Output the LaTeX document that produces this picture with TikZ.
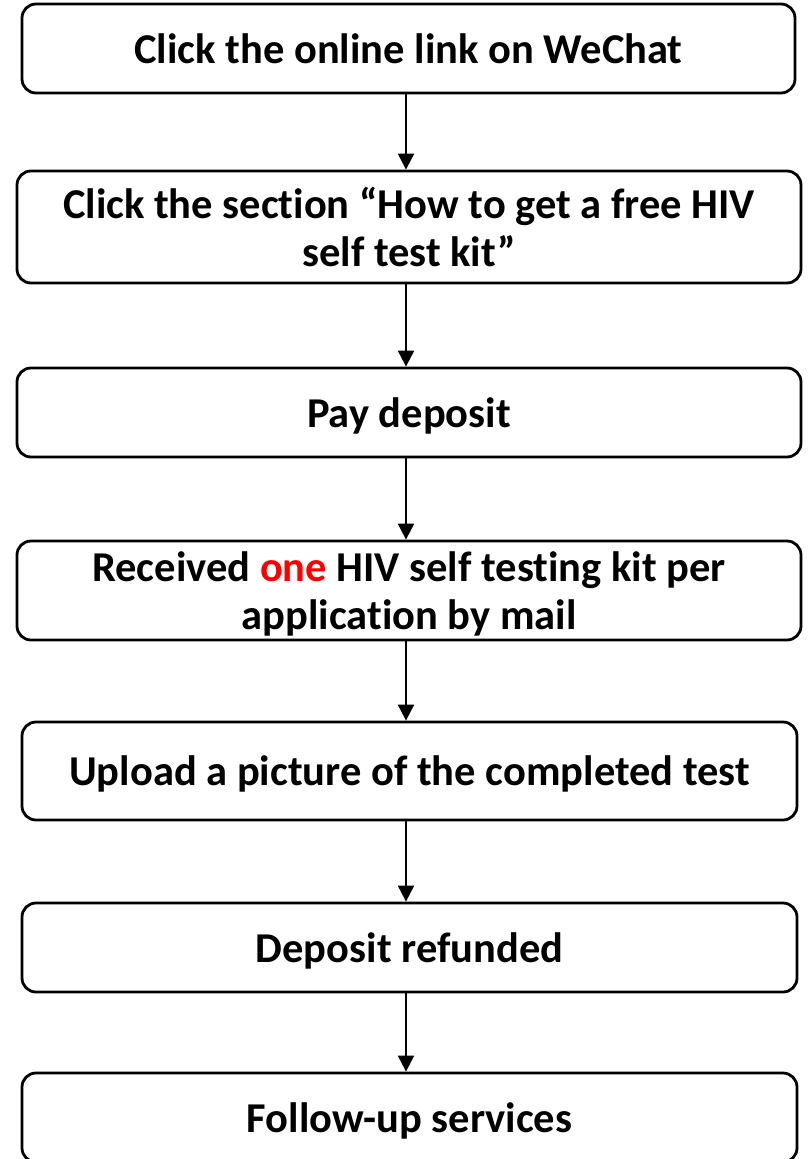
\documentclass[tikz,border=0pt]{standalone}
\usepackage{fontspec}
\setmainfont[Ligatures=NoCommon]{Carlito}
\usetikzlibrary{arrows.meta}
\definecolor{onered}{RGB}{255,0,0}
\tikzset{
  box/.style={draw=black, line width=2.8pt, rounded corners=14pt, fill=white,
    align=center, font=\bfseries\fontsize{42.5}{48}\selectfont, inner sep=0pt, text depth=0pt},
  arr/.style={line width=2pt, -{Triangle[width=16pt,length=16pt]}}
}
\begin{document}
\begin{tikzpicture}[x=1pt,y=-1pt]
\useasboundingbox (0,0) rectangle (808,1159);
\node[box, minimum width=773pt, minimum height=89pt] (b1) at (408.5,48.5) {Click the online link on WeChat};
\node[box, minimum width=784pt, minimum height=112pt] (b2) at (409,227) {Click the section “How to get a free HIV\\ self test kit”};
\node[box, minimum width=784pt, minimum height=89pt] (b3) at (409,412.5) {Pay deposit};
\node[box, minimum width=784pt, minimum height=99pt] (b4) at (409,590.5) {Received \textcolor{onered}{one} HIV self testing kit per\\ application by mail};
\node[box, minimum width=775pt, minimum height=98pt] (b5) at (409.5,771) {Upload a picture of the completed test};
\node[box, minimum width=775pt, minimum height=89pt] (b6) at (409.5,947.5) {Deposit refunded};
\node[box, minimum width=775pt, minimum height=89pt] (b7) at (409.5,1117.5) {Follow-up services};
\coordinate (ax) at (406,0);
\draw[arr] (b1.south -| ax) -- (b2.north -| ax);
\draw[arr] (b2.south -| ax) -- (b3.north -| ax);
\draw[arr] (b3.south -| ax) -- (b4.north -| ax);
\draw[arr] (b4.south -| ax) -- (b5.north -| ax);
\draw[arr] (b5.south -| ax) -- (b6.north -| ax);
\draw[arr] (b6.south -| ax) -- (b7.north -| ax);
\end{tikzpicture}
\end{document}
